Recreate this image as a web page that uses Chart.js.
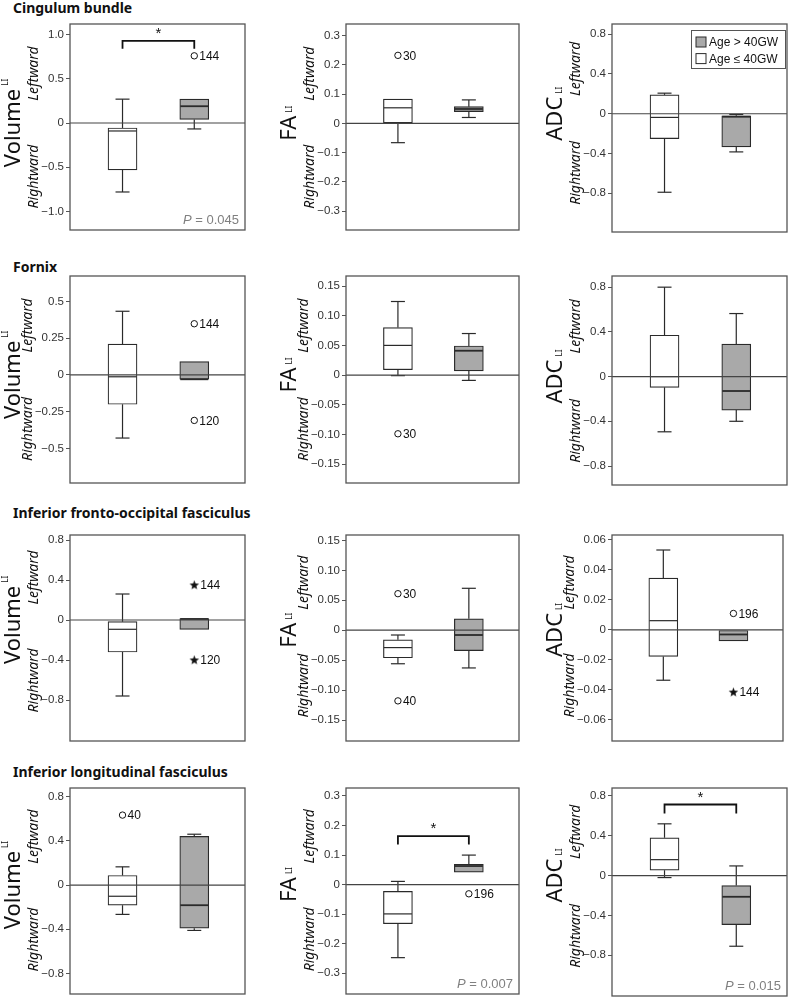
<!DOCTYPE html>
<html>
<head>
<meta charset="utf-8">
<script src="https://cdn.jsdelivr.net/npm/chart.js@4.4.1/dist/chart.umd.min.js"></script>
<style>
  body { margin: 0; background: #fff; width: 788px; height: 999px; position: relative; overflow: hidden; }
  .tract { position: absolute; left: 13px; font: bold 14px "Noto Sans", sans-serif; line-height: 16px; color: #111; white-space: nowrap; }
  canvas { position: absolute; }
</style>
</head>
<body>
<script>
const tracts = ['Cingulum bundle', 'Fornix', 'Inferior fronto-occipital fasciculus', 'Inferior longitudinal fasciculus'];
const measures = ['Volume', 'FA', 'ADC'];
const groups = ['Age ≤ 40GW', 'Age > 40GW'];

// [lower whisker, Q1, median, Q3, upper whisker], panels in reading order
const youngBox = [
  [-0.78, -0.53, -0.09, -0.056, 0.27],
  [-0.066, 0, 0.053, 0.083, 0.083],
  [-0.79, -0.25, -0.037, 0.19, 0.207],
  [-0.43, -0.20, -0.013, 0.21, 0.433],
  [-0.001, 0.009, 0.05, 0.08, 0.124],
  [-0.494, -0.096, 0, 0.37, 0.8],
  [-0.76, -0.32, -0.093, -0.017, 0.26],
  [-0.056, -0.046, -0.029, -0.016, -0.008],
  [-0.0335, -0.0176, 0.0062, 0.0346, 0.0533],
  [-0.265, -0.182, -0.101, 0.087, 0.165],
  [-0.247, -0.132, -0.099, -0.023, 0.011],
  [-0.02, 0.054, 0.16, 0.38, 0.52]
];
const oldBox = [
  [-0.067, 0.04, 0.19, 0.27, 0.27],
  [0.02, 0.04, 0.049, 0.057, 0.08],
  [-0.384, -0.334, -0.03, -0.02, -0.007],
  [-0.03, -0.03, -0.03, 0.09, 0.09],
  [-0.009, 0.007, 0.041, 0.049, 0.07],
  [-0.40, -0.30, -0.129, 0.29, 0.564],
  [-0.093, -0.093, 0.01, 0.013, 0.013],
  [-0.063, -0.034, -0.008, 0.019, 0.07],
  [-0.0073, -0.0073, -0.003, 0, 0],
  [-0.41, -0.39, -0.182, 0.44, 0.46],
  [0.042, 0.042, 0.063, 0.069, 0.1],
  [-0.71, -0.493, -0.213, -0.10, 0.097]
];
// [group, value, case, marker]
const outliers = [
  [[1, 0.76, '144', 'o']],
  [[0, 0.232, '30', 'o']],
  [],
  [[1, 0.348, '144', 'o'], [1, -0.31, '120', 'o']],
  [[0, -0.099, '30', 'o']],
  [],
  [[1, 0.35, '144', '*'], [1, -0.40, '120', '*']],
  [[0, 0.061, '30', 'o'], [0, -0.118, '40', 'o']],
  [[1, 0.011, '196', 'o'], [1, -0.0414, '144', '*']],
  [[0, 0.633, '40', 'o']],
  [[1, -0.031, '196', 'o']],
  []
];
const pValues = ['0.045', null, null, null, null, null, null, null, null, null, '0.007', '0.015'];
const yTicks = [
  [-1, -0.5, 0, 0.5, 1],
  [-0.3, -0.2, -0.1, 0, 0.1, 0.2, 0.3],
  [-0.8, -0.4, 0, 0.4, 0.8],
  [-0.5, -0.25, 0, 0.25, 0.5],
  [-0.15, -0.1, -0.05, 0, 0.05, 0.1, 0.15],
  [-0.8, -0.4, 0, 0.4, 0.8],
  [-0.8, -0.4, 0, 0.4, 0.8],
  [-0.15, -0.1, -0.05, 0, 0.05, 0.1, 0.15],
  [-0.06, -0.04, -0.02, 0, 0.02, 0.04, 0.06],
  [-0.8, -0.4, 0, 0.4, 0.8],
  [-0.3, -0.2, -0.1, 0, 0.1, 0.2, 0.3],
  [-0.8, -0.4, 0, 0.4, 0.8]
];
const yTickLabels = [
  ['−1.0', '−0.5', '0', '0.5', '1.0'],
  ['−0.3', '−0.2', '−0.1', '0', '0.1', '0.2', '0.3'],
  ['−0.8', '−0.4', '0', '0.4', '0.8'],
  ['−0.5', '−0.25', '0', '0.25', '0.5'],
  ['−0.15', '−0.10', '−0.05', '0', '0.05', '0.10', '0.15'],
  ['−0.8', '−0.4', '0', '0.4', '0.8'],
  ['−0.8', '−0.4', '0', '0.4', '0.8'],
  ['−0.15', '−0.10', '−0.05', '0', '0.05', '0.10', '0.15'],
  ['−0.06', '−0.04', '−0.02', '0', '0.02', '0.04', '0.06'],
  ['−0.8', '−0.4', '0', '0.4', '0.8'],
  ['−0.3', '−0.2', '−0.1', '0', '0.1', '0.2', '0.3'],
  ['−0.8', '−0.4', '0', '0.4', '0.8']
];
const yLimits = [
  [-1.21, 1.12], [-0.364, 0.339], [-1.19, 0.903],
  [-0.736, 0.673], [-0.182, 0.167], [-0.97, 0.9],
  [-1.21, 0.85], [-0.185, 0.159], [-0.074, 0.0633],
  [-0.985, 0.878], [-0.37, 0.327], [-1.21, 0.88]
];
// significance bracket [end of drop, bar level]
const sigBracket = [[0.84, 0.93], null, null, null, null, null, null, null, null, null, [0.136, 0.164], [0.624, 0.714]];

// layout
const colX = [0, 262, 525], colW = [250, 262, 263], axisW = [70, 84, 87], padR = [4, 4, 1];
const plotTop = [24, 276, 535, 788], plotH = [208, 209, 208, 208];
const titleTop = [0, 259, 505, 764];
const liRaise = [12, 4, 0];
const GRAY = '#a9a9a9', INK = '#2a2a2a';
const TICK_FONT = '11.5px "Liberation Sans"';

const star = document.createElement('canvas');
star.width = star.height = 11;
(function () {
  const sc = star.getContext('2d');
  sc.fillStyle = '#111';
  sc.beginPath();
  for (let i = 0; i < 10; i++) {
    const r = i % 2 ? 2.1 : 5;
    const ang = -Math.PI / 2 + i * Math.PI / 5;
    sc.lineTo(5.5 + r * Math.cos(ang), 5.8 + r * Math.sin(ang));
  }
  sc.closePath();
  sc.fill();
})();

tracts.forEach((t, r) => {
  const d = document.createElement('div');
  d.className = 'tract';
  d.style.top = titleTop[r] + 'px';
  d.textContent = t;
  document.body.appendChild(d);
});

function makePanel(r, c) {
  const p = r * 3 + c;
  const cv = document.createElement('canvas');
  cv.width = colW[c];
  cv.height = plotH[r] + 11;
  cv.style.left = colX[c] + 'px';
  cv.style.top = (plotTop[r] - 8) + 'px';
  document.body.appendChild(cv);

  const boxes = [youngBox[p], oldBox[p]];

  const parts = {
    id: 'parts' + p,
    afterDatasetsDraw(chart) {
      const { ctx, chartArea: a, scales: { x, y } } = chart;
      const Y = v => y.getPixelForValue(v);
      const seg = (x1, y1, x2, y2) => { ctx.beginPath(); ctx.moveTo(x1, y1); ctx.lineTo(x2, y2); ctx.stroke(); };
      ctx.save();
      ctx.strokeStyle = INK;
      ctx.lineWidth = 1.2;
      boxes.forEach((b, g) => {
        const cx = x.getPixelForValue(g);
        if (b[0] < b[1]) { seg(cx, Y(b[1]), cx, Y(b[0])); seg(cx - 7, Y(b[0]), cx + 7, Y(b[0])); }
        if (b[4] > b[3]) { seg(cx, Y(b[3]), cx, Y(b[4])); seg(cx - 7, Y(b[4]), cx + 7, Y(b[4])); }
        ctx.lineWidth = g ? 1.8 : 1.2;
        seg(cx - 14, Y(b[2]), cx + 14, Y(b[2]));
        ctx.lineWidth = 1.2;
      });
      // zero line
      ctx.strokeStyle = '#444';
      seg(a.left, Y(0), a.right, Y(0));
      // outlier case numbers
      ctx.fillStyle = '#111';
      ctx.font = '12px "Liberation Sans"';
      ctx.textBaseline = 'middle';
      outliers[p].forEach(o => {
        ctx.fillText(o[2], x.getPixelForValue(o[0]) + (o[3] === '*' ? 6 : 5), Y(o[1]) + 1);
      });
      // significance bracket
      const sb = sigBracket[p];
      if (sb) {
        const x0 = x.getPixelForValue(0), x1 = x.getPixelForValue(1);
        ctx.strokeStyle = '#111';
        ctx.lineWidth = 1.8;
        ctx.beginPath();
        ctx.moveTo(x0, Y(sb[0])); ctx.lineTo(x0, Y(sb[1])); ctx.lineTo(x1, Y(sb[1])); ctx.lineTo(x1, Y(sb[0]));
        ctx.stroke();
        ctx.font = '15px "Liberation Sans"';
        ctx.textAlign = 'center';
        ctx.textBaseline = 'alphabetic';
        ctx.fillText('*', (x0 + x1) / 2, Y(sb[1]) - 3);
        ctx.textAlign = 'left';
      }
      // P value
      if (pValues[p]) {
        ctx.fillStyle = '#808080';
        ctx.textBaseline = 'alphabetic';
        ctx.font = '13px "Liberation Sans"';
        const rest = ' = ' + pValues[p];
        const wr = ctx.measureText(rest).width;
        ctx.fillText(rest, a.right - 6 - wr, a.bottom - 6);
        ctx.font = 'italic 13px "Liberation Sans"';
        const wp = ctx.measureText('P').width;
        ctx.fillText('P', a.right - 6 - wr - wp, a.bottom - 6);
      }
      // frame
      ctx.strokeStyle = '#555';
      ctx.lineWidth = 1.3;
      ctx.strokeRect(a.left, a.top, a.right - a.left, a.bottom - a.top);
      // legend
      if (p === 2) {
        const lx = a.right - 96, ly = a.top + 6;
        ctx.fillStyle = '#fff';
        ctx.fillRect(lx, ly, 94, 38);
        ctx.strokeStyle = '#555';
        ctx.lineWidth = 1;
        ctx.strokeRect(lx + 0.5, ly + 0.5, 94, 38);
        [[groups[1], GRAY], [groups[0], '#fff']].forEach((e, i) => {
          const cy = ly + 12 + i * 16.6;
          ctx.fillStyle = e[1];
          ctx.fillRect(lx + 5, cy - 5, 10, 10);
          ctx.strokeStyle = INK;
          ctx.strokeRect(lx + 5, cy - 5, 10, 10);
          ctx.fillStyle = '#111';
          ctx.font = '12px "Liberation Sans"';
          ctx.textBaseline = 'middle';
          ctx.fillText(e[0], lx + 18, cy + 1);
        });
      }
      // axis titles
      ctx.font = TICK_FONT;
      const maxW = Math.max(...yTickLabels[p].map(t => ctx.measureText(t).width));
      const sideX = a.left - 6 - maxW - 3;
      const zero = Y(0);
      ctx.fillStyle = '#111';
      ctx.textBaseline = 'alphabetic';
      ctx.save();
      ctx.translate(a.left - 50, zero);
      ctx.rotate(-Math.PI / 2);
      ctx.font = '22px "Noto Sans"';
      const w1 = ctx.measureText(measures[c]).width;
      ctx.font = '8px "Noto Sans"';
      const w2 = ctx.measureText('LI').width;
      const s = -(w1 + 3 + w2) / 2;
      ctx.font = '22px "Noto Sans"';
      ctx.fillText(measures[c], s, 0);
      ctx.font = '8px "Noto Sans"';
      ctx.fillText('LI', s + w1 + 3, -liRaise[c]);
      ctx.restore();
      ctx.font = 'italic 14px "Noto Sans"';
      ctx.textAlign = 'center';
      [['Leftward', (a.top + zero) / 2], ['Rightward', (zero + a.bottom) / 2]].forEach(l => {
        ctx.save();
        ctx.translate(sideX, l[1]);
        ctx.rotate(-Math.PI / 2);
        ctx.fillText(l[0], 0, 0);
        ctx.restore();
      });
      ctx.restore();
    }
  };

  new Chart(cv, {
    type: 'bar',
    data: {
      datasets: [{
        type: 'bar',
        data: boxes.map((b, g) => ({ x: g, y: [b[1], b[3]] })),
        backgroundColor: ['#fff', GRAY],
        borderColor: INK,
        borderWidth: 1.2,
        borderSkipped: false,
        barThickness: 29
      }, {
        type: 'scatter',
        data: outliers[p].map(o => ({ x: o[0], y: o[1] })),
        pointStyle: ctx => (outliers[p][ctx.dataIndex] && outliers[p][ctx.dataIndex][3] === '*') ? star : 'circle',
        pointRadius: 3.2,
        pointBorderWidth: 1,
        pointBorderColor: '#111',
        pointBackgroundColor: '#fff'
      }]
    },
    options: {
      animation: false,
      responsive: false,
      maintainAspectRatio: false,
      layout: { padding: { top: 8, bottom: 3, left: 0, right: padR[c] } },
      plugins: { legend: { display: false }, tooltip: { enabled: false } },
      scales: {
        x: { type: 'linear', offset: false, min: -0.732, max: 1.707, display: false },
        y: {
          min: yLimits[p][0],
          max: yLimits[p][1],
          afterBuildTicks: s => { s.ticks = yTicks[p].map(v => ({ value: v })); },
          afterFit: s => { s.width = axisW[c]; s.paddingTop = 0; s.paddingBottom = 0; },
          ticks: {
            callback: (v, i) => yTickLabels[p][i],
            font: { family: 'Liberation Sans', size: 11.5 },
            color: '#333',
            padding: 2,
            autoSkip: false
          },
          grid: { drawOnChartArea: false, drawTicks: true, tickLength: 4, tickColor: '#555' },
          border: { display: false }
        }
      }
    },
    plugins: [parts]
  });
}

for (let r = 0; r < 4; r++) {
  for (let c = 0; c < 3; c++) makePanel(r, c);
}
</script>
</body>
</html>
